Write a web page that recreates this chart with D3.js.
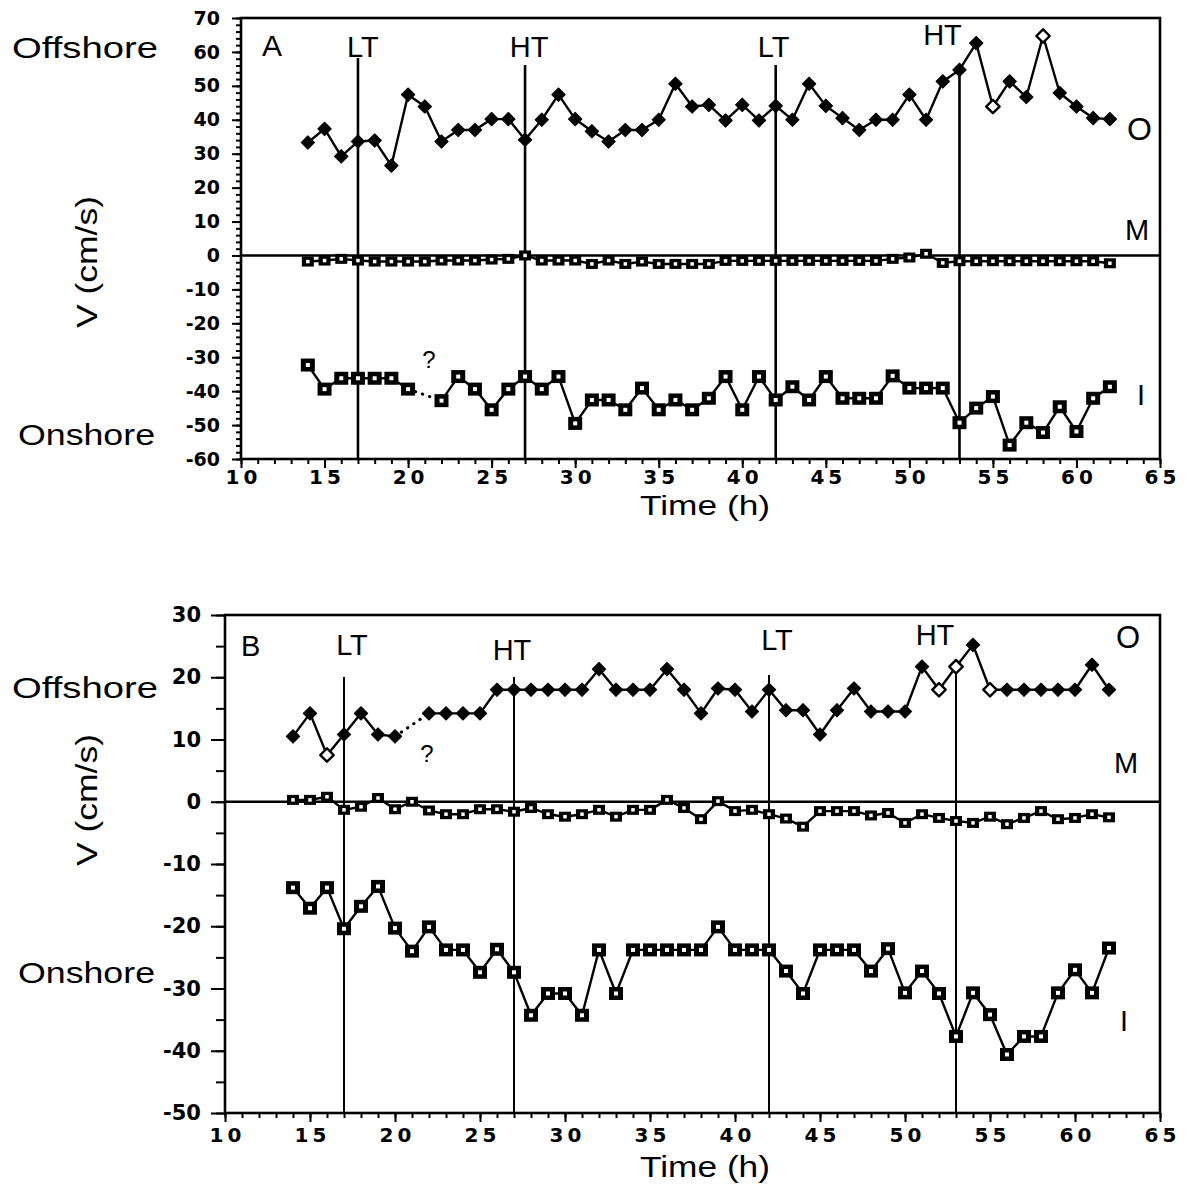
<!DOCTYPE html>
<html>
<head>
<meta charset="utf-8">
<script src="https://cdn.jsdelivr.net/npm/d3@7"></script>
<style>
  body { margin: 0; background: #fff; }
  svg { display: block; }
  text { font-family: "Liberation Sans", Arial, Helvetica, sans-serif; fill: #000; }
</style>
</head>
<body>
<svg id="chart" width="1188" height="1204"></svg>
<script>
// Hourly samples (h)
const hours = [14,15,16,17,18,19,20,21,22,23,24,25,26,27,28,29,30,31,32,33,34,35,36,37,38,
               39,40,41,42,43,44,45,46,47,48,49,50,51,52,53,54,55,56,57,58,59,60,61,62];

// Panel A: cross-shore velocity V (cm/s) at the offshore (O), middle (M) and inshore (I) stations
const offshoreA = [33.3,37.3,29.2,33.6,33.9,26.5,47.4,43.9,33.6,37.0,37.0,40.2,40.2,34.1,40.0,47.4,40.2,36.6,33.6,37.0,37.0,40.0,50.6,43.9,44.4,
                   39.8,44.4,39.8,44.1,40.0,50.6,44.1,40.5,37.0,40.0,40.0,47.4,40.0,51.3,54.7,62.6,43.9,51.3,46.7,64.7,47.9,43.9,40.5,40.2];
const offshoreOpenA = [55, 58];
const middleA = [-1.8,-1.5,-1.0,-1.5,-1.8,-1.8,-1.8,-1.8,-1.5,-1.5,-1.5,-1.2,-1.0,0.0,-1.5,-1.5,-1.5,-2.5,-1.5,-2.5,-1.8,-2.5,-2.5,-2.5,-2.5,
                 -1.6,-1.6,-1.6,-1.6,-1.6,-1.6,-1.6,-1.6,-1.6,-1.6,-1.0,-0.6,0.5,-2.2,-1.7,-1.7,-1.7,-1.7,-1.7,-1.7,-1.7,-1.7,-1.7,-2.3];
const inshoreA = [-32.3,-39.4,-36.2,-36.2,-36.2,-36.2,-39.4,null,-42.8,-35.7,-39.4,-45.5,-39.4,-35.7,-39.4,-35.7,-49.5,-42.6,-42.6,-45.5,-39.1,-45.5,-42.6,-45.5,-42.1,
                  -35.7,-45.5,-35.7,-42.6,-38.7,-42.6,-35.7,-42.1,-42.1,-42.1,-35.5,-39.1,-39.1,-39.1,-49.3,-45.0,-41.6,-55.9,-49.3,-52.2,-44.6,-51.9,-42.1,-38.7];

// Panel B
const offshoreB = [10.5,14.2,7.5,10.8,14.2,10.8,10.5,null,14.2,14.2,14.2,14.2,18.0,18.0,18.0,18.0,18.0,18.0,21.3,18.0,18.0,18.0,21.3,18.0,14.2,
                   18.2,18.0,14.5,18.0,14.7,14.7,10.8,14.7,18.2,14.5,14.5,14.5,21.7,18.0,21.7,25.2,18.0,18.0,18.0,18.0,18.0,18.0,22.0,18.0];
const offshoreOpenB = [16, 52, 53, 55];
const middleB = [0.3,0.3,0.8,-1.3,-0.8,0.6,-1.2,0.0,-1.4,-2.0,-2.0,-1.2,-1.2,-1.6,-1.0,-2.0,-2.4,-2.0,-1.3,-2.4,-1.3,-1.3,0.3,-1.0,-2.8,
                 0.1,-1.5,-1.3,-2.0,-2.7,-4.0,-1.5,-1.5,-1.5,-2.2,-1.8,-3.4,-2.0,-2.6,-3.1,-3.4,-2.4,-3.6,-2.6,-1.5,-2.8,-2.6,-2.0,-2.5];
const inshoreB = [-13.8,-17.1,-13.8,-20.4,-16.8,-13.6,-20.3,-24.0,-20.1,-23.8,-23.8,-27.4,-23.7,-27.4,-34.3,-30.8,-30.8,-34.3,-23.8,-30.8,-23.8,-23.8,-23.8,-23.8,-23.8,
                  -20.1,-23.8,-23.8,-23.8,-27.2,-30.8,-23.8,-23.8,-23.8,-27.2,-23.6,-30.7,-27.2,-30.8,-37.7,-30.7,-34.2,-40.6,-37.7,-37.7,-30.7,-27.0,-30.7,-23.5];

// Tide stages
const tideHours = [17, 27, 42, 53];
const tideNames = ["LT", "HT", "LT", "HT"];

// Axis ticks
const timeTicks = [10,15,20,25,30,35,40,45,50,55,60,65];
const vTicksA = [70,60,50,40,30,20,10,0,-10,-20,-30,-40,-50,-60];
const vTicksB = [30,20,10,0,-10,-20,-30,-40,-50];

const svg = d3.select("#chart");
svg.append("rect").attr("width", 1188).attr("height", 1204).attr("fill", "#fff");

function styleAxis(sel, fontSize, spacing) {
  sel.select("path.domain").remove();
  sel.selectAll(".tick line").attr("stroke", "#000").attr("stroke-width", 2);
  sel.selectAll(".tick text")
    .attr("fill", "#000")
    .style("font-family", "'DejaVu Sans', sans-serif")
    .style("font-weight", "bold")
    .style("font-size", fontSize + "px")
    .style("letter-spacing", spacing + "px");
}

function drawPanel(cfg) {
  const x = d3.scaleLinear().domain([10, 65]).range([cfg.left, cfg.right]);
  const y = d3.scaleLinear().domain(cfg.vDomain).range([cfg.bottom, cfg.top]);
  const g = svg.append("g");

  // time axis: hourly minor ticks, labelled every 5 h
  g.append("g").attr("transform", `translate(0,${cfg.bottom})`)
    .call(d3.axisBottom(x).tickValues(d3.range(10, 66, 1)).tickSize(cfg.xMinor).tickFormat(""))
    .call(s => styleAxis(s, 20, 0));
  g.append("g").attr("transform", `translate(0,${cfg.bottom})`)
    .call(d3.axisBottom(x).tickValues(timeTicks).tickSize(cfg.xMajor).tickPadding(cfg.xPad).tickFormat(d => String(d)))
    .call(s => styleAxis(s, 20, 4))
    .selectAll(".tick text").attr("dx", 2);

  // velocity axis
  g.append("g").attr("transform", `translate(${cfg.left},0)`)
    .call(d3.axisLeft(y).tickValues(d3.range(cfg.vDomain[0], cfg.vDomain[1] + 0.01, cfg.vMinorStep)).tickSize(cfg.yMinor).tickFormat(""))
    .call(s => styleAxis(s, cfg.yFont, 0));
  g.append("g").attr("transform", `translate(${cfg.left},0)`)
    .call(d3.axisLeft(y).tickValues(cfg.vTicks).tickSize(cfg.yMajor).tickPadding(cfg.yPad).tickFormat(d => String(d)))
    .call(s => styleAxis(s, cfg.yFont, 0));

  // plot frame
  g.append("rect")
    .attr("x", cfg.left).attr("y", cfg.top)
    .attr("width", cfg.right - cfg.left).attr("height", cfg.bottom - cfg.top)
    .attr("fill", "none").attr("stroke", "#000").attr("stroke-width", 2.6);

  // zero line
  g.append("line")
    .attr("x1", cfg.left).attr("x2", cfg.right)
    .attr("y1", y(0)).attr("y2", y(0))
    .attr("stroke", "#000").attr("stroke-width", 2.6);

  // tide stage markers
  tideHours.forEach((h, i) => {
    g.append("line")
      .attr("x1", x(h)).attr("x2", x(h))
      .attr("y1", cfg.tideTop[i]).attr("y2", cfg.bottom)
      .attr("stroke", "#000").attr("stroke-width", cfg.tideWidth);
    g.append("text")
      .attr("x", x(h) + cfg.tideDx[i]).attr("y", cfg.tideBase[i])
      .attr("text-anchor", "middle")
      .style("font-size", "29px")
      .text(tideNames[i]);
  });

  const line = d3.line()
    .defined(d => d.v !== null)
    .x(d => x(d.h))
    .y(d => y(d.v));

  function series(values, marker, openHours) {
    const pts = hours.map((h, i) => ({ h: h, v: values[i] }));
    g.append("path").datum(pts)
      .attr("d", line)
      .attr("fill", "none").attr("stroke", "#000")
      .attr("stroke-width", 2.4).attr("stroke-linejoin", "round");

    // dotted bridge across missing samples
    pts.forEach((d, i) => {
      if (d.v === null) {
        let a = i - 1, b = i + 1;
        while (a >= 0 && pts[a].v === null) a--;
        while (b < pts.length && pts[b].v === null) b++;
        if (a >= 0 && b < pts.length && (i === a + 1)) {
          g.append("line")
            .attr("x1", x(pts[a].h)).attr("y1", y(pts[a].v))
            .attr("x2", x(pts[b].h)).attr("y2", y(pts[b].v))
            .attr("stroke", "#000").attr("stroke-width", 3)
            .attr("stroke-linecap", "round")
            .attr("stroke-dasharray", "0.5,7");
        }
      }
    });

    const valid = pts.filter(d => d.v !== null);
    if (marker === "diamond") {
      const sym = d3.symbol().type(d3.symbolSquare).size(90);
      g.selectAll(null).data(valid).enter().append("path")
        .attr("d", sym)
        .attr("transform", d => `translate(${x(d.h)},${y(d.v)}) rotate(45)`)
        .attr("fill", d => openHours.includes(d.h) ? "#fff" : "#000")
        .attr("stroke", "#000").attr("stroke-width", d => openHours.includes(d.h) ? 2.4 : 1)
        .attr("stroke-linejoin", "round");
    } else {
      const w = marker === "bigSquare" ? 14 : 12;
      const hgt = marker === "bigSquare" ? 13 : 10;
      const inner = marker === "bigSquare" ? 4 : 3.5;
      const cells = g.selectAll(null).data(valid).enter().append("g")
        .attr("transform", d => `translate(${x(d.h)},${y(d.v)})`);
      cells.append("rect")
        .attr("x", -w / 2).attr("y", -hgt / 2).attr("width", w).attr("height", hgt)
        .attr("fill", "#000");
      cells.append("rect")
        .attr("x", -inner / 2).attr("y", -inner / 2).attr("width", inner).attr("height", inner)
        .attr("fill", "#fff");
    }
  }

  series(cfg.offshore, "diamond", cfg.open);
  series(cfg.middle, "smallSquare", []);
  series(cfg.inshore, "bigSquare", []);

  // station and panel labels
  cfg.labels.forEach(l => {
    g.append("text").attr("x", l.x).attr("y", l.y)
      .attr("text-anchor", l.anchor || "start")
      .style("font-size", l.size + "px")
      .text(l.text);
  });

  // side annotations
  const side = [["Offshore", cfg.offY], ["Onshore", cfg.onY]];
  side.forEach(([t, yy], i) => {
    g.append("text").attr("x", i === 0 ? 12 : 18).attr("y", yy)
      .style("font-size", "29px")
      .attr("textLength", i === 0 ? 146 : 137).attr("lengthAdjust", "spacingAndGlyphs")
      .text(t);
  });
  g.append("text")
    .attr("transform", `translate(97,${cfg.vLabelY}) rotate(-90)`)
    .attr("text-anchor", "middle")
    .style("font-size", "30px")
    .attr("textLength", 132).attr("lengthAdjust", "spacingAndGlyphs")
    .text("V (cm/s)");
  g.append("text")
    .attr("x", 705).attr("y", cfg.timeY)
    .attr("text-anchor", "middle")
    .style("font-size", cfg.timeSize + "px")
    .attr("textLength", 130).attr("lengthAdjust", "spacingAndGlyphs")
    .text("Time (h)");
}

drawPanel({
  left: 241, right: 1160, top: 18, bottom: 459,
  vDomain: [-60, 70], vTicks: vTicksA, vMinorStep: 2,
  yMajor: 9, yMinor: 5, yPad: 12, yFont: 19,
  xMajor: 9, xMinor: 5, xPad: 2,
  offshore: offshoreA, open: offshoreOpenA, middle: middleA, inshore: inshoreA,
  tideTop: [58, 65, 65, 67], tideDx: [5, 4, -2, -17], tideBase: [57, 57, 57, 45], tideWidth: 2.6,
  labels: [
    { text: "A", x: 262, y: 56, size: 30 },
    { text: "O", x: 1127, y: 140, size: 32 },
    { text: "M", x: 1125, y: 240, size: 29 },
    { text: "I", x: 1137, y: 405, size: 29 },
    { text: "?", x: 429, y: 368, size: 24, anchor: "middle" }
  ],
  offY: 58, onY: 445, vLabelY: 262, timeY: 515, timeSize: 28
});

drawPanel({
  left: 225, right: 1160, top: 615, bottom: 1113,
  vDomain: [-50, 30], vTicks: vTicksB, vMinorStep: 5,
  yMajor: 14, yMinor: 9, yPad: 10, yFont: 21,
  xMajor: 9, xMinor: 5, xPad: 6,
  offshore: offshoreB, open: offshoreOpenB, middle: middleB, inshore: inshoreB,
  tideTop: [677, 677, 675, 668], tideDx: [8, -2, 8, -21], tideBase: [655, 660, 650, 645], tideWidth: 2,
  labels: [
    { text: "B", x: 241, y: 656, size: 29 },
    { text: "O", x: 1116, y: 648, size: 31 },
    { text: "M", x: 1114, y: 773, size: 29 },
    { text: "I", x: 1120, y: 1031, size: 29 },
    { text: "?", x: 427, y: 762, size: 24, anchor: "middle" }
  ],
  offY: 698, onY: 983, vLabelY: 800, timeY: 1177, timeSize: 30
});
</script>
</body>
</html>
